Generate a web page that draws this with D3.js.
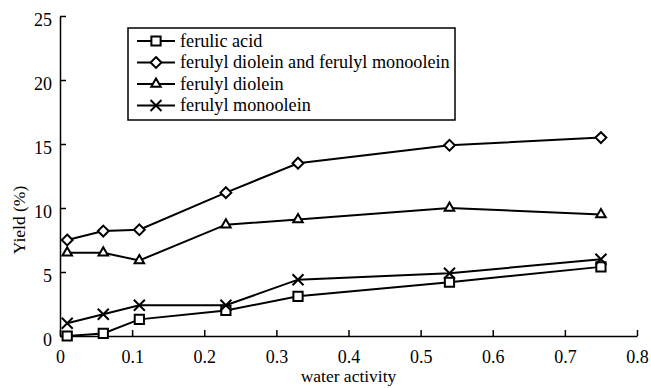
<!DOCTYPE html>
<html>
<head>
<meta charset="utf-8">
<script src="https://cdn.jsdelivr.net/npm/d3@7"></script>
<style>
  body { margin: 0; background: #fff; }
</style>
</head>
<body>
<div id="chart"></div>
<script>
// water activity values
var waterActivity = [0.01, 0.06, 0.11, 0.23, 0.33, 0.54, 0.75];

// yields (%)
var ferulicAcid = [0.0, 0.2, 1.3, 2.0, 3.1, 4.2, 5.4];
var diAndMono = [7.5, 8.2, 8.3, 11.2, 13.5, 14.9, 15.5];
var ferulylDiolein = [6.5, 6.5, 5.9, 8.7, 9.1, 10.0, 9.5];
var ferulylMonoolein = [1.0, 1.7, 2.4, 2.4, 4.4, 4.9, 6.0];

var seriesNames = ["ferulic acid", "ferulyl diolein and ferulyl monoolein", "ferulyl diolein", "ferulyl monoolein"];
var seriesMarkers = ["square", "diamond", "triangle", "cross"];
var seriesValues = [ferulicAcid, diAndMono, ferulylDiolein, ferulylMonoolein];

var xTicks = [0, 0.1, 0.2, 0.3, 0.4, 0.5, 0.6, 0.7, 0.8];
var yTicks = [0, 5, 10, 15, 20, 25];

var FONT = "Liberation Serif";
var width = 651, height = 388;
var margin = {top: 16, right: 14, bottom: 52, left: 60};
var plotW = width - margin.left - margin.right;
var plotH = height - margin.top - margin.bottom;

var xScale = d3.scaleLinear().domain([0, 0.8]).range([0, plotW]);
var yScale = d3.scaleLinear().domain([0, 25]).range([plotH, 0]);

var svg = d3.select("#chart").append("svg")
    .attr("width", width)
    .attr("height", height);

var g = svg.append("g")
    .attr("transform", `translate(${margin.left},${margin.top})`);

// axes, ticks pointing inward
var xAxis = g.append("g")
    .attr("transform", "translate(0," + plotH + ")")
    .call(d3.axisBottom(xScale).tickValues(xTicks).tickFormat(d3.format("")).tickSizeInner(-6).tickSizeOuter(0).tickPadding(14));
var yAxis = g.append("g")
    .call(d3.axisLeft(yScale).tickValues(yTicks).tickSizeInner(-6).tickSizeOuter(0).tickPadding(8));

[xAxis, yAxis].forEach(function(a) {
  a.select(".domain").attr("stroke", "#000").attr("stroke-width", 1.5);
  a.selectAll(".tick line").attr("stroke", "#000").attr("stroke-width", 1.5);
  a.selectAll(".tick text").style("font-size", "18px").style("font-family", FONT).attr("fill", "#000");
});
yAxis.selectAll(".tick text").attr("dy", "0.5em");

// axis titles
svg.append("text")
    .attr("x", margin.left + xScale(0.4))
    .attr("y", 382)
    .attr("text-anchor", "middle")
    .style("font-family", FONT)
    .style("font-size", "17.5px")
    .text("water activity");

svg.append("text")
    .attr("transform", "translate(25,220) rotate(-90)")
    .attr("text-anchor", "middle")
    .style("font-family", FONT)
    .style("font-size", "17.5px")
    .text("Yield (%)");

// markers
function markerPath(type) {
  if (type === "square") return d3.symbol().type(d3.symbolSquare).size(85)();
  if (type === "diamond") return d3.symbol().type(d3.symbolDiamond2).size(75)();
  if (type === "triangle") return d3.symbol().type(d3.symbolTriangle2).size(65)();
  var r = 5.5;
  return `M${-r},${-r}L${r},${r}M${-r},${r}L${r},${-r}`;
}

var line = d3.line()
    .x(function(d) { return xScale(d[0]); })
    .y(function(d) { return yScale(d[1]); });

seriesValues.forEach(function(vals, i) {
  var pts = waterActivity.map(function(w, j) { return [w, vals[j]]; });
  g.append("path")
      .datum(pts)
      .attr("fill", "none")
      .attr("stroke", "#000")
      .attr("stroke-width", 2)
      .attr("d", line);
  g.selectAll(".m" + i)
      .data(pts)
      .enter().append("path")
      .attr("class", "m" + i)
      .attr("transform", function(d) { return `translate(${xScale(d[0])},${yScale(d[1])})`; })
      .attr("d", markerPath(seriesMarkers[i]))
      .attr("fill", seriesMarkers[i] === "cross" ? "none" : "#fff")
      .attr("stroke", "#000")
      .attr("stroke-width", 2);
});

// legend
var legend = svg.append("g").attr("transform", "translate(128,28)");
legend.append("rect")
    .attr("width", 327)
    .attr("height", 92)
    .attr("fill", "#fff")
    .attr("stroke", "#000")
    .attr("stroke-width", 1.5);

seriesNames.forEach(function(name, i) {
  var row = legend.append("g").attr("transform", `translate(0,${13 + i * 21.5})`);
  row.append("line")
      .attr("x1", 9).attr("x2", 47)
      .attr("stroke", "#000").attr("stroke-width", 2);
  row.append("path")
      .attr("transform", "translate(28,0)")
      .attr("d", markerPath(seriesMarkers[i]))
      .attr("fill", seriesMarkers[i] === "cross" ? "none" : "#fff")
      .attr("stroke", "#000")
      .attr("stroke-width", 2);
  row.append("text")
      .attr("x", 52)
      .attr("dy", "0.32em")
      .style("font-family", FONT)
      .style("font-size", "18.2px")
      .text(name);
});
</script>
</body>
</html>
